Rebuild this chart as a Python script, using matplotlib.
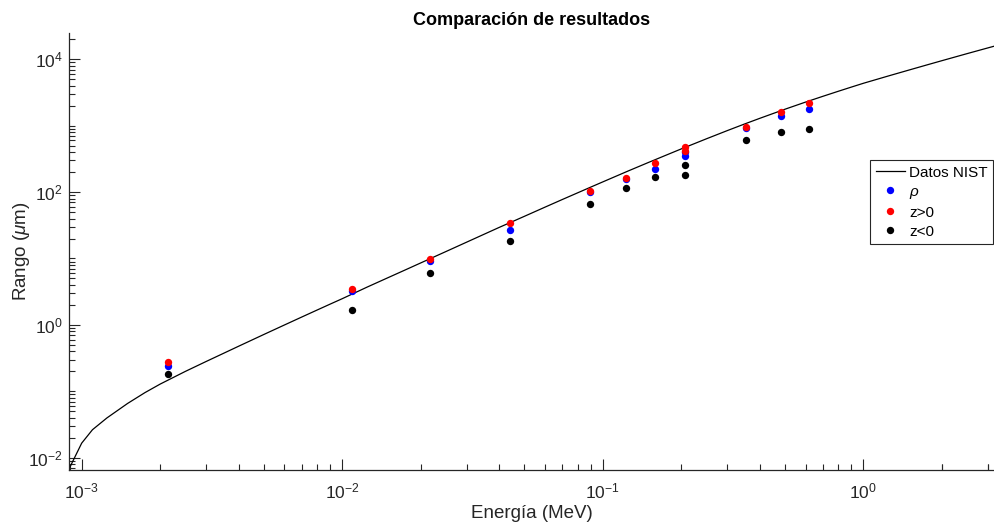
import numpy as np
import matplotlib
matplotlib.use("Agg")
import matplotlib.pyplot as plt
from matplotlib.ticker import FixedLocator, NullFormatter, FixedFormatter

plt.rcParams['font.family'] = ['Liberation Sans', 'DejaVu Sans']
plt.rcParams['mathtext.fontset'] = 'custom'
plt.rcParams['mathtext.rm'] = 'Liberation Sans'
plt.rcParams['mathtext.it'] = 'Liberation Sans:italic'
plt.rcParams['mathtext.bf'] = 'Liberation Sans:bold'

# NIST reference curve
nist_E = [8.9e-4, 1.0e-3, 1.1e-3, 1.25e-3, 1.5e-3, 1.75e-3, 2.0e-3, 2.5e-3, 3.0e-3,
          3.5e-3, 4.0e-3, 5.0e-3, 6.0e-3, 7.0e-3, 8.0e-3, 9.0e-3, 1.0e-2,
          1.25e-2, 1.5e-2, 1.75e-2, 2.0e-2, 2.5e-2, 3.0e-2, 3.5e-2, 4.0e-2, 4.5e-2,
          5.0e-2, 6.0e-2, 7.0e-2, 8.0e-2, 9.0e-2, 0.1, 0.125, 0.15, 0.175, 0.2,
          0.25, 0.3, 0.35, 0.4, 0.5, 0.6, 0.7, 0.8, 0.9, 1.0, 1.25, 1.5, 1.75, 2.0,
          2.5, 3.0, 3.2]
nist_R = [6.5e-3, 0.0165, 0.0263, 0.0396, 0.0654, 0.0954, 0.128, 0.199, 0.28,
          0.372, 0.476, 0.716, 0.996, 1.315, 1.67, 2.06, 2.48,
          3.73, 5.15, 6.76, 8.57, 12.73, 17.61, 23.17, 29.38, 36.0,
          43.2, 59.4, 77.6, 97.5, 119.3, 142.7, 208, 281, 361, 448,
          637, 844, 1064, 1293, 1775, 2275, 2784, 3304, 3832, 4367, 5644, 6934, 8242, 9561,
          12218, 14879, 15943]

# Simulated results
E_pts = [0.00215, 0.0109, 0.0218, 0.044, 0.089, 0.123, 0.158, 0.206, 0.206, 0.355, 0.482, 0.617]
R_rho = [0.236, 3.29, 9.1, 26.7, 100, 156, 221, 400, 345, 936, 1418, 1791]
R_zpos = [0.274, 3.45, 9.8, 34.7, 103, 165, 278, 474, 420, 970, 1597, 2204]
R_zneg = [0.181, 1.68, 6.1, 18.6, 66.4, 116, 171, 256, 180, 611, 798, 895]

x_major = [1e-3, 1e-2, 1e-1, 1e0]
x_labels = ['$10^{-3}$', '$10^{-2}$', '$10^{-1}$', '$10^{0}$']
y_major = [1e-2, 1e0, 1e2, 1e4]
y_labels = ['$10^{-2}$', '$10^{0}$', '$10^{2}$', '$10^{4}$']

fig = plt.figure(figsize=(9.95, 5.28), dpi=100)
ax = fig.add_axes([68.5/995, 58/528, 926.5/995, 437/528])

dark = (0.15, 0.15, 0.15)
ms = 5.3
ax.plot(nist_E, nist_R, color='black', lw=0.9, label='Datos NIST')
ax.plot(E_pts, R_rho, 'o', color=(0, 0, 1), ms=ms, mec='none', label=r'$\rho$')
ax.plot(E_pts, R_zpos, 'o', color=(1, 0, 0), ms=ms, mec='none', label='z>0')
ax.plot(E_pts, R_zneg, 'o', color='black', ms=ms, mec='none', label='z<0')

ax.set_xscale('log')
ax.set_yscale('log')
ax.set_xlim(8.9e-4, 3.2)
ax.set_ylim(6.5e-3, 2.5e4)

ax.xaxis.set_major_locator(FixedLocator(x_major))
ax.xaxis.set_major_formatter(FixedFormatter(x_labels))
ax.yaxis.set_major_locator(FixedLocator(y_major))
ax.yaxis.set_major_formatter(FixedFormatter(y_labels))

xminor = [k * 10.0**n for n in range(-4, 1) for k in range(2, 10)]
xminor = [v for v in xminor if 8.9e-4 <= v <= 3.2] + [2.0, 3.0]
ax.xaxis.set_minor_locator(FixedLocator(xminor))
ax.xaxis.set_minor_formatter(NullFormatter())
yminor = [k * 10.0**n for n in range(-3, 5) for k in range(1, 10)]
yminor = [v for v in yminor if 6.5e-3 <= v <= 2.5e4 and v not in y_major]
ax.yaxis.set_minor_locator(FixedLocator(yminor))
ax.yaxis.set_minor_formatter(NullFormatter())

ax.tick_params(which='both', direction='in', colors=dark, labelsize=12.5, width=0.8)
ax.tick_params(which='major', length=8)
ax.tick_params(which='minor', length=4.5)
ax.tick_params(axis='x', pad=8)
ax.tick_params(axis='y', pad=4)

for s in ['top', 'right']:
    ax.spines[s].set_visible(False)
for s in ['left', 'bottom']:
    ax.spines[s].set_color(dark)
    ax.spines[s].set_linewidth(0.9)

ax.set_xlabel('Energía (MeV)', fontsize=13.5, color=dark, labelpad=3)
ax.set_ylabel(r'Rango ($\mu$m)', fontsize=13.5, color=dark, labelpad=-3)
ax.set_title('Comparación de resultados', fontsize=13, fontweight='bold', color='black', pad=6)

leg = ax.legend(loc='upper right', bbox_to_anchor=(0.998, 0.709), fontsize=11,
                frameon=True, fancybox=False, edgecolor=dark, framealpha=1,
                handlelength=1.9, handletextpad=0.3, borderpad=0.35, labelspacing=0.33,
                borderaxespad=0)
leg.get_frame().set_linewidth(0.8)
for t in leg.get_texts():
    t.set_color('black')

fig.savefig('out.png', dpi=100)
